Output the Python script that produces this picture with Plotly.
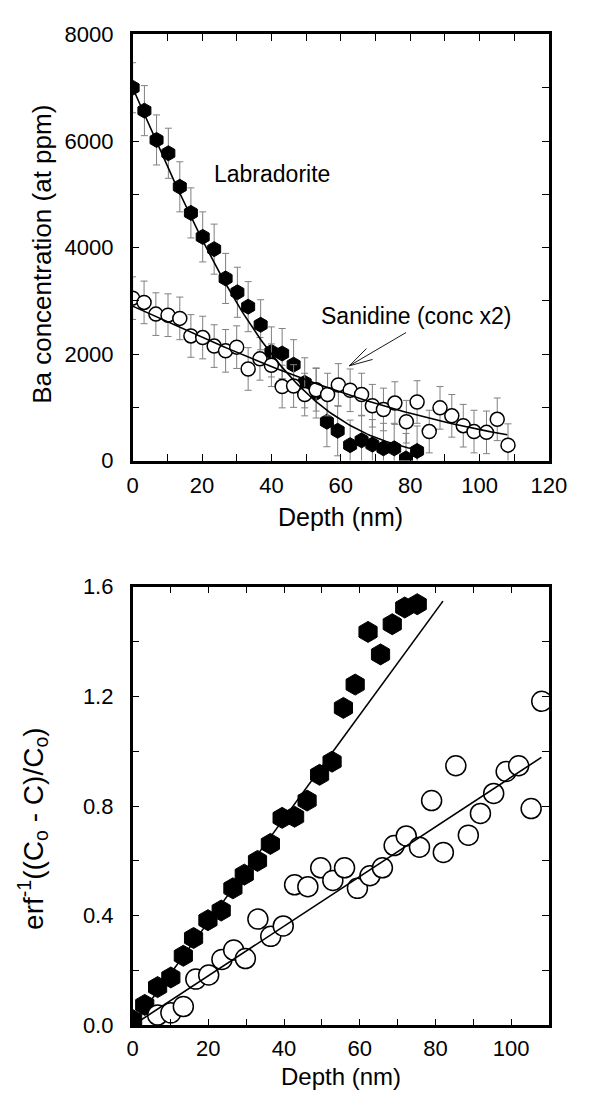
import math
import plotly.graph_objects as go

# ---------------- data ----------------
# Top panel: Ba concentration profiles
lab_depth = [0, 3.4, 6.9, 10.3, 13.6, 16.8, 20.2, 23.5, 26.8, 30.2, 33.3, 36.9, 40.0,
             43.1, 46.4, 49.6, 52.9, 56.0, 59.1, 62.7, 66.0, 69.1, 72.3, 75.4, 78.8, 82.0]
lab_conc = [7000, 6570, 6020, 5770, 5140, 4650, 4200, 3970, 3420, 3160, 2890, 2550, 2040,
            2010, 1800, 1460, 1270, 730, 560, 290, 380, 300, 230, 230, 40, 180]
lab_err = 470

san_depth = [0, 3.3, 6.7, 10.2, 13.6, 16.8, 20.2, 23.5, 26.8, 30.0, 33.3, 36.7, 40.0,
             43.1, 46.4, 49.6, 52.9, 56.2, 59.3, 62.7, 66.0, 69.1, 72.3, 75.6, 78.9, 82.0,
             85.5, 88.6, 92.0, 95.3, 98.4, 102.0, 105.1, 108.2]
san_conc = [3050, 2970, 2750, 2730, 2670, 2340, 2310, 2150, 2060, 2130, 1720, 1910, 1790,
            1390, 1400, 1240, 1330, 1240, 1420, 1320, 1240, 1030, 960, 1080, 730, 1100,
            545, 990, 840, 655, 545, 530, 775, 290]
san_err = 400

# Bottom panel: linearised profiles erf^-1((Co-C)/Co)
lab2_depth = [0, 3.2, 6.6, 10.1, 13.4, 16.1, 19.9, 23.4, 26.5, 29.5, 33.0, 36.4, 39.5,
              42.8, 46.1, 49.4, 52.7, 55.7, 58.8, 62.2, 65.5, 68.6, 71.9, 75.2]
lab2_val = [0.02, 0.075, 0.14, 0.175, 0.254, 0.319, 0.384, 0.419, 0.50, 0.55, 0.60, 0.662,
            0.757, 0.761, 0.820, 0.914, 0.962, 1.158, 1.243, 1.435, 1.353, 1.463, 1.524, 1.536]

san2_depth = [6.6, 10.1, 13.4, 16.7, 20.1, 23.6, 26.7, 29.8, 33.1, 36.5, 39.8, 42.8, 46.3,
              49.7, 52.9, 56.0, 59.4, 62.7, 66.0, 69.1, 72.3, 75.8, 79.0, 82.1, 85.4, 88.7,
              91.9, 95.4, 98.7, 102.0, 105.3, 108.1]
san2_val = [0.038, 0.046, 0.069, 0.169, 0.184, 0.241, 0.275, 0.244, 0.388, 0.325, 0.363,
            0.513, 0.506, 0.575, 0.529, 0.575, 0.50, 0.546, 0.575, 0.656, 0.691, 0.65,
            0.820, 0.631, 0.947, 0.694, 0.773, 0.846, 0.926, 0.947, 0.791, 1.182]

# Fit parameters (erfc diffusion profiles): C = C0*erfc(k*x)
lab_C0, lab_k, lab_xmax = 7000, 0.01887, 82
san_C0, san_k, san_xmax = 2900, 0.00905, 108

top_xticks = [0, 20, 40, 60, 80, 100, 120]
top_yticks = [0, 2000, 4000, 6000, 8000]
bot_xticks = [0, 20, 40, 60, 80, 100]
bot_yticks = [0.0, 0.4, 0.8, 1.2, 1.6]
bot_yticklabels = ["0.0", "0.4", "0.8", "1.2", "1.6"]

# ---------------- layout geometry ----------------
W, H = 589, 1102
PX_L, PX_R = 132, 566
TOP_T, TOP_B = 23, 459
BOT_T, BOT_B = 588, 1037
FONT = "Liberation Sans, Arial, Helvetica, sans-serif"


def curve(C0, k, xmax, n=120):
    xs = [xmax * i / n for i in range(n + 1)]
    return xs, [C0 * math.erfc(k * x) for x in xs]


fig = go.Figure()

hexm_top = dict(symbol="hexagon", size=15, color="black", line=dict(color="black", width=1))
circ_top = dict(symbol="circle", size=14, color="white", line=dict(color="black", width=1.5))
hexm_bot = dict(symbol="hexagon", size=21, color="black", line=dict(color="black", width=1))
circ_bot = dict(symbol="circle", size=20, color="white", line=dict(color="black", width=1.5))
errstyle = dict(type="constant", color="#808080", thickness=1, width=3.5)

# top panel
fig.add_trace(go.Scatter(x=lab_depth, y=lab_conc, mode="markers", marker=hexm_top,
                         error_y=dict(value=lab_err, **errstyle), xaxis="x", yaxis="y",
                         showlegend=False))
fig.add_trace(go.Scatter(x=san_depth, y=san_conc, mode="markers", marker=circ_top,
                         error_y=dict(value=san_err, **errstyle), xaxis="x", yaxis="y",
                         showlegend=False))
for C0, k, xm in [(lab_C0, lab_k, lab_xmax), (san_C0, san_k, san_xmax)]:
    cx, cy = curve(C0, k, xm)
    fig.add_trace(go.Scatter(x=cx, y=cy, mode="lines", line=dict(color="black", width=1.6),
                             xaxis="x", yaxis="y", showlegend=False))

# bottom panel
fig.add_trace(go.Scatter(x=lab2_depth, y=lab2_val, mode="markers", marker=hexm_bot,
                         xaxis="x2", yaxis="y2", showlegend=False))
fig.add_trace(go.Scatter(x=san2_depth, y=san2_val, mode="markers", marker=circ_bot,
                         xaxis="x2", yaxis="y2", showlegend=False))
for k, xm in [(lab_k, lab_xmax), (san_k, san_xmax)]:
    fig.add_trace(go.Scatter(x=[0, xm], y=[0, k * xm], mode="lines",
                             line=dict(color="black", width=1.6),
                             xaxis="x2", yaxis="y2", showlegend=False))


def ax(rng, minor, tickvals, ticktext=None, **kw):
    d = dict(range=rng, ticks="inside", ticklen=7, tickwidth=1.3, tickcolor="black",
             showline=True, linewidth=2.5, linecolor="black", mirror="allticks",
             showgrid=False, zeroline=False, tickmode="array", tickvals=tickvals,
             minor=dict(dtick=minor, tick0=0, ticks="inside", ticklen=7, tickwidth=1.3,
                        tickcolor="black", showgrid=False),
             tickfont=dict(family=FONT, size=22, color="black"))
    if ticktext is not None:
        d["ticktext"] = ticktext
    d.update(kw)
    return d


xdom = [PX_L / W, PX_R / W]
top_dom = [(H - TOP_B) / H, (H - TOP_T) / H]
bot_dom = [(H - BOT_B) / H, (H - BOT_T) / H]

fig.update_layout(
    width=W, height=H, margin=dict(l=0, r=0, t=0, b=0),
    paper_bgcolor="white", plot_bgcolor="white",
    font=dict(family=FONT, color="black"),
    xaxis=ax([0, 120], 10, top_xticks, domain=xdom, anchor="y", ticklabelstandoff=3),
    yaxis=ax([0, 8000], 1000, top_yticks, domain=top_dom, anchor="x", ticklabelstandoff=12),
    xaxis2=ax([0, 110], 10, bot_xticks, domain=xdom, anchor="y2", ticklabelstandoff=1),
    yaxis2=ax([0, 1.6], 0.2, bot_yticks, ticktext=bot_yticklabels,
              domain=bot_dom, anchor="x2", ticklabelstandoff=12),
)


def top_px_to_data(px, py):
    x = (px - PX_L) / (PX_R - PX_L) * 120
    y = (TOP_B - py) / (TOP_B - TOP_T) * 8000
    return x, y


anns = []
tfont = dict(family=FONT, size=25, color="black")
common = dict(xref="paper", yref="paper", showarrow=False, xanchor="center", yanchor="middle")
anns.append(dict(text="Depth (nm)", x=(PX_L + PX_R) / 2 / W, y=(H - 517) / H, font=tfont, **common))
anns.append(dict(text="Depth (nm)", x=(PX_L + PX_R) / 2 / W, y=(H - 1089) / H,
                 font=dict(family=FONT, size=24, color="black"), **common))
anns.append(dict(text="Ba concentration (at ppm)", x=38 / W, y=(H - 248) / H,
                 textangle=-90, font=dict(family=FONT, size=26, color="black"), **common))
anns.append(dict(text="erf<sup>-1</sup>((C<sub>o</sub> - C)/C<sub>o</sub>)",
                 x=28 / W, y=(H - 835) / H, textangle=-90,
                 font=dict(family=FONT, size=28, color="black"), **common))

afont = dict(family=FONT, size=23, color="black")
lx, ly = top_px_to_data(277, 166)
anns.append(dict(text="Labradorite", x=lx, y=ly, xref="x", yref="y", showarrow=False,
                 xanchor="center", yanchor="middle", font=afont))
sx, sy = top_px_to_data(428, 311)
anns.append(dict(text="Sanidine (conc x2)", x=sx, y=sy, xref="x", yref="y",
                 showarrow=False, xanchor="center", yanchor="middle", font=afont))
fig.update_layout(annotations=anns)

# open "V" arrow pointing to the sanidine curve
head = (358, 362)
tail = (417, 328)
ang = math.atan2(tail[1] - head[1], tail[0] - head[0])
shapes = []
hx, hy = top_px_to_data(*head)
tx, ty = top_px_to_data(*tail)
shapes.append(dict(type="line", x0=tx, y0=ty, x1=hx, y1=hy, xref="x", yref="y",
                   line=dict(color="black", width=0.9)))
for da in (0.26, -0.26):
    wx = head[0] + 25 * math.cos(ang + da)
    wy = head[1] + 25 * math.sin(ang + da)
    x1, y1 = top_px_to_data(wx, wy)
    shapes.append(dict(type="line", x0=hx, y0=hy, x1=x1, y1=y1, xref="x", yref="y",
                       line=dict(color="black", width=0.9)))
fig.update_layout(shapes=shapes)

fig.write_html(
    "out.html",
    config={"displayModeBar": False},
    post_script="document.body.style.margin='0';"
                "document.body.style.overflow='hidden';"
                "document.documentElement.style.overflow='hidden';",
)
